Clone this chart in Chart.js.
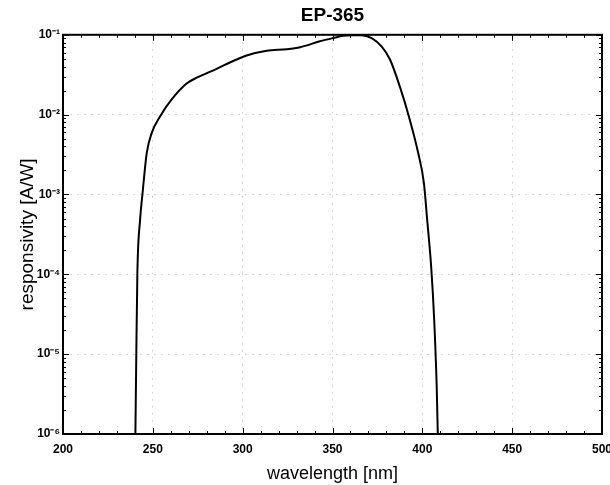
<!DOCTYPE html>
<html><head><meta charset="utf-8">
<script src="https://cdn.jsdelivr.net/npm/chart.js@4.4.1/dist/chart.umd.min.js"></script>
<style>html,body{margin:0;padding:0;background:#fff;overflow:hidden}canvas{display:block}</style>
</head><body>
<canvas id="c" width="610" height="485"></canvas>
<script>
const chartTitle = 'EP-365';
const xTitle = 'wavelength [nm]';
const yTitle = 'responsivity [A/W]';

const wavelength = [240.3, 240.8, 241.4, 242.9, 244.3, 246.6, 249.4, 254.0, 260.5, 268.8, 274.4, 285.5, 294.8, 302.2, 313.4, 324.5, 332.0, 343.0, 350.3, 356.0, 361.0, 366.0, 371.8, 377.4, 382.0, 387.5, 393.1, 397.7, 400.9, 402.7, 404.9, 406.6, 408.0, 408.6];
const responsivity = [1e-6, 1e-5, 1.05e-4, 4.8e-4, 1.05e-3, 3.3e-3, 5.9e-3, 9.5e-3, 1.55e-2, 2.45e-2, 2.9e-2, 3.75e-2, 4.7e-2, 5.5e-2, 6.3e-2, 6.6e-2, 7.0e-2, 8.3e-2, 9.1e-2, 9.7e-2, 9.9e-2, 9.9e-2, 9.1e-2, 7.1e-2, 4.9e-2, 2.24e-2, 8.5e-3, 3.3e-3, 1.38e-3, 4.8e-4, 1.26e-4, 2.7e-5, 3.9e-6, 1e-6];

const xTickValues = [200, 250, 300, 350, 400, 450, 500];
const xTickLabels = ['200', '250', '300', '350', '400', '450', '500'];
const xMinorStep = 10;
const yDecades = [1e-6, 1e-5, 1e-4, 1e-3, 1e-2, 1e-1];
const yTickLabels = ['10\u207B\u2076', '10\u207B\u2075', '10\u207B\u2074', '10\u207B\u00B3', '10\u207B\u00B2', '10\u207B\u00B9'];

const xAllTicks = [];
for (let v = xTickValues[0]; v <= xTickValues[xTickValues.length - 1]; v += xMinorStep) xAllTicks.push(v);
const yAllTicks = [];
yDecades.forEach((d, i) => {
  if (i < yDecades.length - 1) { for (let k = 1; k <= 9; k++) yAllTicks.push(k * d); }
  else yAllTicks.push(d);
});

const isXMajor = v => xTickValues.indexOf(v) >= 0;
const yDecadeIndex = v => yDecades.findIndex(d => Math.abs(Math.log10(v) - Math.log10(d)) < 1e-6);

Chart.defaults.font.family = "'Liberation Sans', Arial, Helvetica, sans-serif";
Chart.defaults.color = '#000';

const framePlugin = {
  id: 'frame',
  afterDatasetsDraw(chart) {
    const {ctx, chartArea: a, scales: {x, y}} = chart;
    ctx.save();
    ctx.strokeStyle = '#000';
    ctx.lineWidth = 1;
    const seg = (x1, y1, x2, y2) => { ctx.beginPath(); ctx.moveTo(x1, y1); ctx.lineTo(x2, y2); ctx.stroke(); };
    x.ticks.forEach(t => {
      const px = Math.round(x.getPixelForValue(t.value)) + 0.5;
      const len = isXMajor(t.value) ? 6 : 3;
      seg(px, a.bottom, px, a.bottom - len);
      seg(px, a.top, px, a.top + len);
    });
    y.ticks.forEach(t => {
      const py = Math.round(y.getPixelForValue(t.value)) + 0.5;
      const len = yDecadeIndex(t.value) >= 0 ? 6 : 3;
      seg(a.left, py, a.left + len, py);
      seg(a.right, py, a.right - len, py);
    });
    ctx.lineWidth = 2;
    ctx.strokeRect(a.left, a.top, a.right - a.left, a.bottom - a.top);
    ctx.restore();
  }
};

new Chart(document.getElementById('c'), {
  type: 'line',
  data: {
    datasets: [{
      data: wavelength.map((w, i) => ({x: w, y: responsivity[i]})),
      borderColor: '#000',
      borderWidth: 2,
      pointRadius: 0,
      cubicInterpolationMode: 'monotone',
      fill: false
    }]
  },
  options: {
    responsive: false,
    animation: false,
    layout: {padding: {left: 0, right: 8, top: 0, bottom: 0}},
    plugins: {
      legend: {display: false},
      tooltip: {enabled: false},
      title: {
        display: true, text: chartTitle, fullSize: false,
        font: {size: 19, weight: 'bold'}, color: '#000',
        padding: {top: 4, bottom: 8}
      }
    },
    scales: {
      x: {
        type: 'linear', min: 200, max: 500,
        afterBuildTicks: s => { s.ticks = xAllTicks.map(v => ({value: v})); },
        afterFit: s => { s.height = 51; s.paddingRight = 0; },
        ticks: {
          autoSkip: false, maxRotation: 0, padding: 8, color: '#000',
          font: {size: 12, weight: 'bold'},
          callback: v => { const i = xTickValues.indexOf(v); return i >= 0 ? xTickLabels[i] : ''; }
        },
        grid: {
          drawTicks: false, lineWidth: 1,
          color: c => (c.tick && isXMajor(c.tick.value)) ? 'rgba(0,0,0,0.16)' : 'rgba(0,0,0,0)'
        },
        border: {display: false, dash: [2, 5]},
        title: {display: true, text: xTitle, color: '#000', font: {size: 18}, padding: {top: 0, bottom: 0}}
      },
      y: {
        type: 'logarithmic', min: 1e-6, max: 1e-1,
        afterBuildTicks: s => { s.ticks = yAllTicks.map(v => ({value: v})); },
        afterFit: s => { s.width = 63; },
        ticks: {
          autoSkip: false, padding: 3, color: '#000',
          font: {size: 12, weight: 'bold'},
          callback: v => { const i = yDecadeIndex(v); return i >= 0 ? yTickLabels[i] : ''; }
        },
        grid: {
          drawTicks: false, lineWidth: 1,
          color: c => (c.tick && yDecadeIndex(c.tick.value) >= 0) ? 'rgba(0,0,0,0.16)' : 'rgba(0,0,0,0)'
        },
        border: {display: false, dash: [2, 5]},
        title: {display: true, text: yTitle, color: '#000', font: {size: 19}, padding: {top: 16, bottom: 0}}
      }
    }
  },
  plugins: [framePlugin]
});
</script>
</body></html>
